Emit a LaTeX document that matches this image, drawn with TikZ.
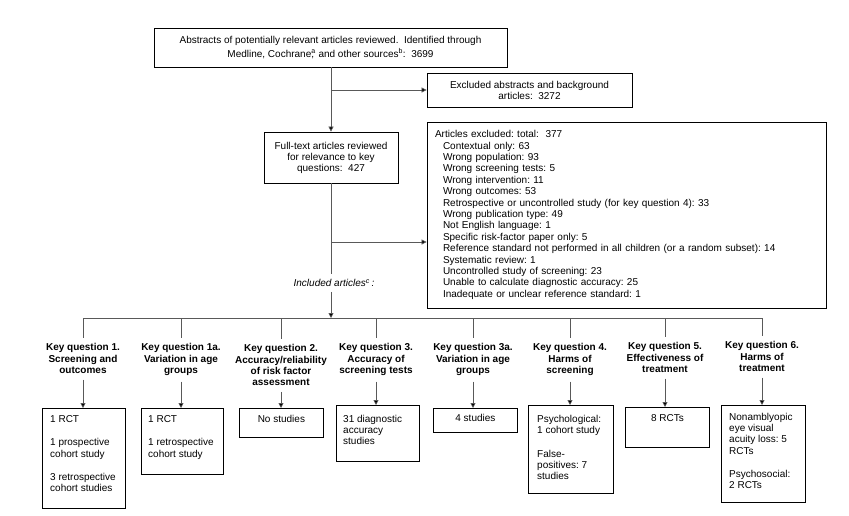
\documentclass[tikz,border=0pt]{standalone}
\usepackage{fontspec}
\setmainfont{Liberation Sans}
\usetikzlibrary{arrows.meta,calc}
\begin{document}
\frenchspacing
\begin{tikzpicture}[x=1pt,y=-1pt,
  bx/.style={draw=black, line width=0.8pt, inner sep=0pt, anchor=north west},
  cbx/.style={draw=black, line width=0.8pt, inner sep=0pt, align=center, font=\fontsize{10}{11}\selectfont},
  tx/.style={font=\fontsize{10}{11.2}\selectfont, inner sep=0pt, align=left, anchor=north west},
  ctx/.style={font=\fontsize{10}{11.2}\selectfont, inner sep=0pt, align=center, anchor=north},
  kq/.style={font=\fontsize{10}{11.2}\selectfont\bfseries, align=center, inner xsep=0pt, inner ysep=6pt, anchor=north},
  ln/.style={line width=0.7pt, draw=black!65},
  ar/.style={ln, -{Triangle[length=5pt,width=5pt,fill=black]}}]
\useasboundingbox (0,0) rectangle (849,515);

% top part
\node[cbx, minimum width=353, minimum height=39, font=\fontsize{10}{14}\selectfont] (top) at (330.5,47.5)
  {Abstracts of potentially relevant articles reviewed.\ \ Identified through\\
   Medline, Cochrane\rlap{,}\textsuperscript{a} and other sources\textsuperscript{b}:\ \ 3699};
\node[cbx, minimum width=205, minimum height=34] (exa) at (529.5,90)
  {Excluded abstracts and background\\ articles:\ \ 3272};
\node[cbx, minimum width=134, minimum height=51] (ft) at (331,157.5)
  {Full-text articles reviewed\\ for relevance to key\\ questions:\ \ 427};
\node[draw=black, line width=0.8pt, inner ysep=0pt, inner xsep=8pt, text width=383pt,
      minimum height=186, align=left, font=\fontsize{10}{11.4}\selectfont] (excl) at (626.5,215)
  {Articles excluded: total:\ \ 377\\
   \hspace*{8pt}Contextual only: 63\\
   \hspace*{8pt}Wrong population: 93\\
   \hspace*{8pt}Wrong screening tests: 5\\
   \hspace*{8pt}Wrong intervention: 11\\
   \hspace*{8pt}Wrong outcomes: 53\\
   \hspace*{8pt}Retrospective or uncontrolled study (for key question 4): 33\\
   \hspace*{8pt}Wrong publication type: 49\\
   \hspace*{8pt}Not English language: 1\\
   \hspace*{8pt}Specific risk-factor paper only: 5\\
   \hspace*{8pt}Reference standard not performed in all children (or a random subset): 14\\
   \hspace*{8pt}Systematic review: 1\\
   \hspace*{8pt}Uncontrolled study of screening: 23\\
   \hspace*{8pt}Unable to calculate diagnostic accuracy: 25\\
   \hspace*{8pt}Inadequate or unclear reference standard: 1};
\node[font=\fontsize{10}{11}\selectfont\itshape, inner xsep=0pt, inner ysep=5pt] (inc) at (334,283)
  {Included articles\textsuperscript{c}\,:};

\coordinate (j1) at (ft.north |- exa.west);
\coordinate (j2) at (ft.south |- 0,242);
\draw[ar] (ft.north |- top.south) -- (ft.north);
\draw[ar] (j1) -- (exa.west);
\draw[ln] (ft.south) -- (ft.south |- inc.north);
\draw[ar] (j2) -- (j2 -| excl.west);

% bar
\coordinate (t1) at (83,318);
\coordinate (t2) at (181,318);
\coordinate (t3) at (281,318);
\coordinate (t4) at (376,318);
\coordinate (t5) at (473,318);
\coordinate (t6) at (570,318);
\coordinate (t7) at (665,318);
\coordinate (t8) at (762,318);
\coordinate (tm) at (ft.south |- t1);
\draw[ar] (ft.south |- inc.south) -- (tm);
\draw[ln] (t1) -- (t8);

% key questions
\node[kq] (k1) at (83,337.5) {Key question 1.\\ Screening and\\ outcomes};
\node[kq] (k2) at (181,337.5) {Key question 1a.\\ Variation in age\\ groups};
\node[kq] (k3) at (281,338.5) {Key question 2.\\ Accuracy/reliability\\ of risk factor\\ assessment};
\node[kq] (k4) at (376,337.5) {Key question 3.\\ Accuracy of\\ screening tests};
\node[kq] (k5) at (473,337.5) {Key question 3a.\\ Variation in age\\ groups};
\node[kq] (k6) at (570,337.5) {Key question 4.\\ Harms of\\ screening};
\node[kq] (k7) at (665,336.5) {Key question 5.\\ Effectiveness of\\ treatment};
\node[kq] (k8) at (762,335.5) {Key question 6.\\ Harms of\\ treatment};
\foreach \i in {1,...,8} \draw[ln] (t\i) -- (k\i.north);

% result boxes
\node[bx, minimum width=83, minimum height=100] (b1) at (42,408) {};
\node[bx, minimum width=82, minimum height=66] (b2) at (141,408) {};
\node[bx, minimum width=84, minimum height=29] (b3) at (239,408) {};
\node[bx, minimum width=83, minimum height=56] (b4) at (336,405) {};
\node[bx, minimum width=84, minimum height=24] (b5) at (433,408) {};
\node[bx, minimum width=85, minimum height=88] (b6) at (528,405) {};
\node[bx, minimum width=84, minimum height=40] (b7) at (625,407) {};
\node[bx, minimum width=84, minimum height=97] (b8) at (721,405) {};

\foreach \i in {1,...,8} \draw[ar] (k\i.south) -- (k\i.south |- b\i.north);

\node[tx] at ($(b1.north west)+(8,7)$) {1 RCT\\[12.5pt]1 prospective\\ cohort study\\[12.5pt]3 retrospective\\ cohort studies};
\node[tx] at ($(b2.north west)+(7,7)$) {1 RCT\\[12.5pt]1 retrospective\\ cohort study};
\node[ctx] at ($(b3.north)+(0,7)$) {No studies};
\node[tx] at ($(b4.north west)+(7,10)$) {31 diagnostic\\ accuracy\\ studies};
\node[ctx] at ($(b5.north)+(0,6)$) {4 studies};
\node[tx] at ($(b6.north west)+(9,10)$) {Psychological:\\ 1 cohort study\\[12.5pt]False-\\ positives: 7\\ studies};
\node[ctx] at ($(b7.north)+(0,7)$) {8 RCTs};
\node[tx] at ($(b8.north west)+(8,8)$) {Nonamblyopic\\ eye visual\\ acuity loss: 5\\ RCTs\\[12.5pt]Psychosocial:\\ 2 RCTs};
\end{tikzpicture}
\end{document}
